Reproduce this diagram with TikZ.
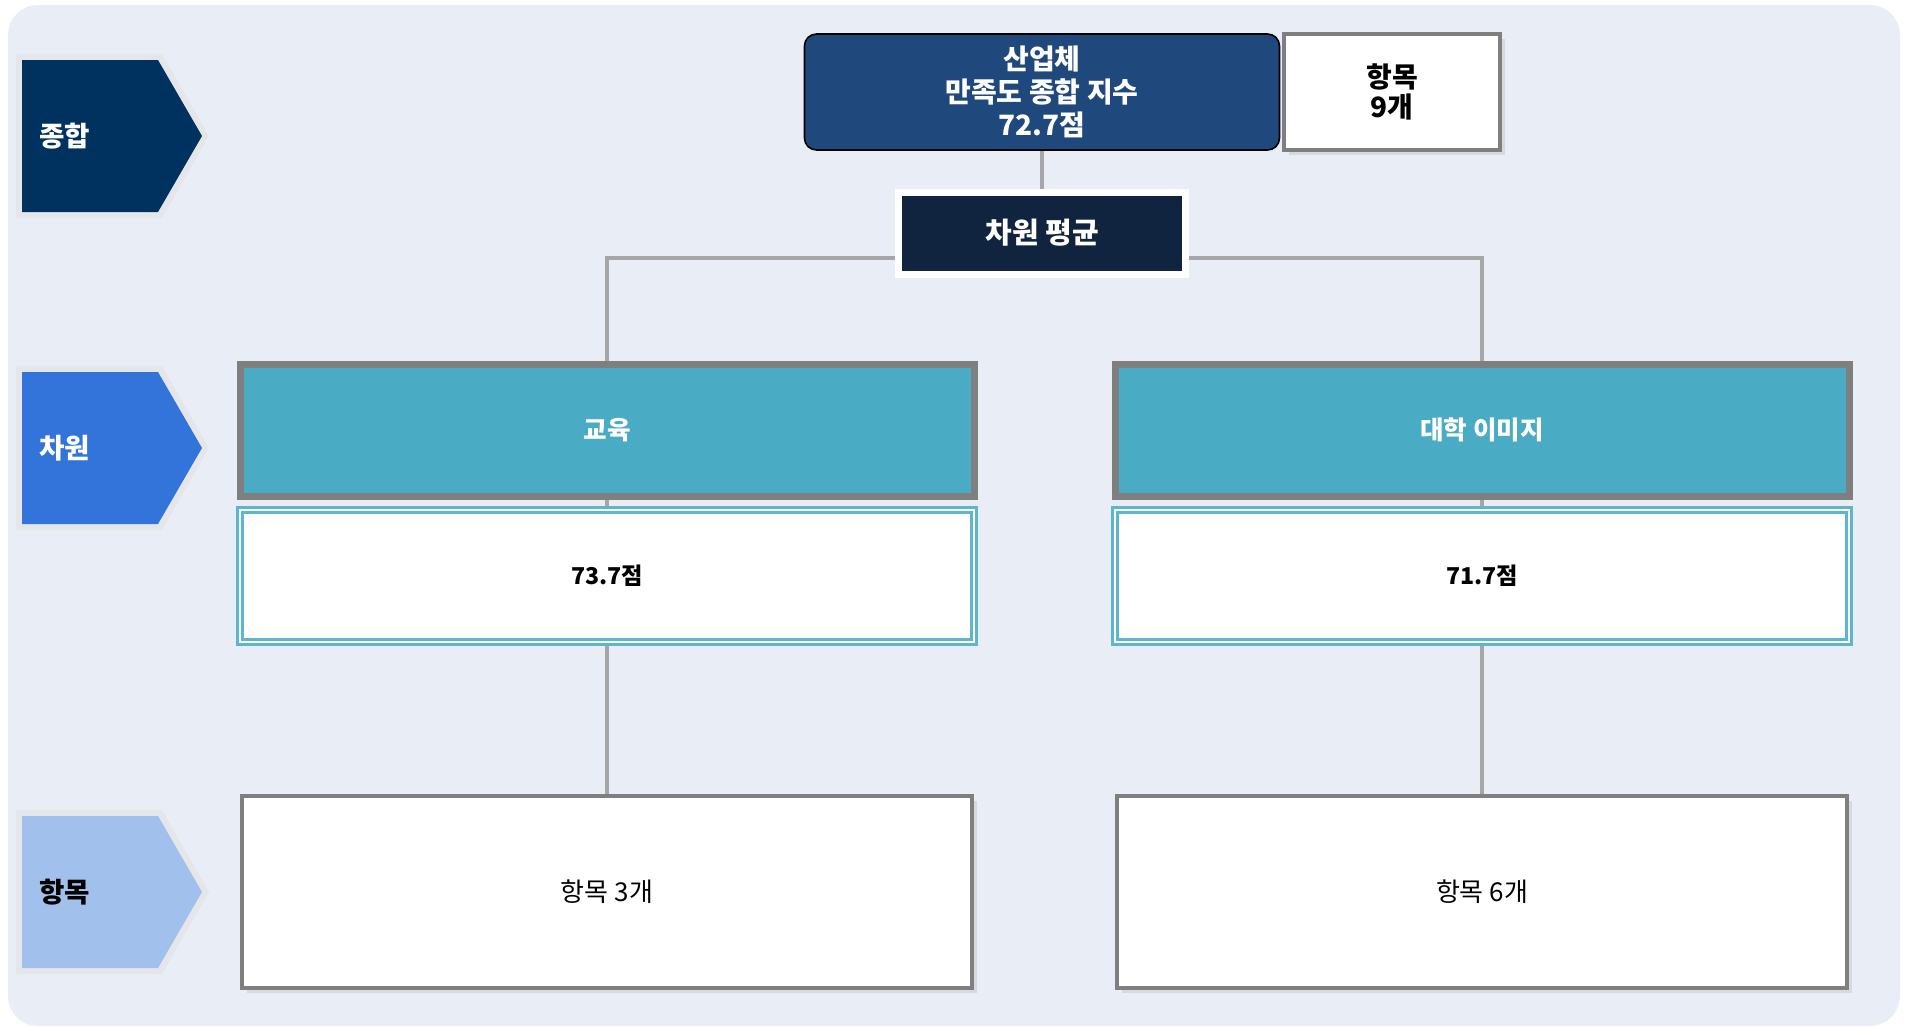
\documentclass[tikz,border=0pt]{standalone}
\usepackage{fontspec}
\setmainfont{Noto Sans CJK KR}
\usepackage{xcolor}
\definecolor{bgc}{HTML}{E9EDF5}
\definecolor{tagrim}{HTML}{E4E6EA}
\definecolor{topc}{HTML}{00325F}
\definecolor{dimc}{HTML}{3374DB}
\definecolor{itemc}{HTML}{A1C0EB}
\definecolor{mainc}{HTML}{1F497D}
\definecolor{avgc}{HTML}{10233F}
\definecolor{tealc}{HTML}{4AABC5}
\definecolor{scorec}{HTML}{5DB5CE}
\definecolor{edgec}{HTML}{7F7F7F}
\definecolor{linec}{HTML}{A6A6A6}
\definecolor{shadc}{HTML}{D6D9DE}
\usetikzlibrary{positioning,backgrounds,shadows}
\tikzset{
  tagtxt/.style={font=\bfseries\fontsize{13.8}{15}\selectfont,anchor=west,inner sep=0pt},
  total/.style={draw=black,line width=0.8pt,fill=mainc,rounded corners=6pt,text=white,align=center,
    minimum width=237.5pt,minimum height=58pt,font=\bfseries\fontsize{14}{16.5}\selectfont},
  count/.style={draw=edgec,line width=2pt,fill=white,align=center,minimum width=108pt,minimum height=58pt,
    font=\bfseries\fontsize{14}{15}\selectfont,drop shadow={shadow xshift=2.5pt,shadow yshift=-2.5pt,fill=shadc,opacity=1}},
  avg/.style={draw=white,line width=3.5pt,fill=avgc,text=white,minimum width=143.5pt,minimum height=41pt,
    font=\bfseries\fontsize{14.5}{16}\selectfont},
  dimbox/.style={draw=edgec,line width=3.5pt,fill=tealc,text=white,minimum width=367pt,minimum height=66pt,
    font=\bfseries\fontsize{12.8}{14}\selectfont},
  scorebox/.style={draw=scorec,line width=1.2pt,double=white,double distance=1.2pt,fill=white,
    minimum width=367pt,minimum height=66pt,font=\bfseries\fontsize{11.6}{14}\selectfont},
  itembox/.style={draw=edgec,line width=1.6pt,fill=white,minimum width=365pt,minimum height=96pt,
    font=\fontsize{13}{15}\selectfont,drop shadow={shadow xshift=2.5pt,shadow yshift=-2.5pt,fill=shadc,opacity=1}},
  conn/.style={draw=linec,line width=1.8pt},
}
% level tag: name, y, fill, text colour, text
\newcommand{\levtag}[5]{%
  \fill[tagrim] (16,#2-82) -- (162,#2-82) -- (209,#2) -- (162,#2+82) -- (16,#2+82) -- cycle;
  \fill[#3] (22,#2-76) -- (158,#2-76) -- (202,#2) -- (158,#2+76) -- (22,#2+76) -- cycle;
  \node[tagtxt,text=#4] (#1) at (39,#2) {#5};}

\begin{document}
\begin{tikzpicture}[x=0.5pt,y=-0.5pt]
  \useasboundingbox (0,0) rectangle (1908,1028);
  \levtag{lt}{136}{topc}{white}{종합}
  \levtag{ld}{448}{dimc}{white}{차원}
  \levtag{li}{892}{itemc}{black}{항목}
  \node[total] (idx) at (1042,92) {산업체\\만족도 종합 지수\\72.7점};
  \node[count] (cnt) at (1392,92) {항목\\9개};
  \node[avg] (avg) at (1042,233) {차원 평균};
  \node[dimbox] (edu) at (607,430) {교육};
  \node[dimbox] (img) at (1482,430) {대학 이미지};
  \node[scorebox] (edus) at (607,576) {73.7점};
  \node[scorebox] (imgs) at (1482,576) {71.7점};
  \node[itembox] (edui) at (607,892) {항목 3개};
  \node[itembox] (imgi) at (1482,892) {항목 6개};
  \begin{scope}[on background layer]
    \fill[bgc,rounded corners=15pt] (8,5) rectangle (1900,1026);
    \draw[conn] (idx.south) -- (avg.north);
    \draw[conn] ([yshift=-12.5pt]avg.west) -| (edu.north);
    \draw[conn] ([yshift=-12.5pt]avg.east) -| (img.north);
    \draw[conn] (edu.south) -- (edui.north);
    \draw[conn] (img.south) -- (imgi.north);
  \end{scope}
\end{tikzpicture}
\end{document}
